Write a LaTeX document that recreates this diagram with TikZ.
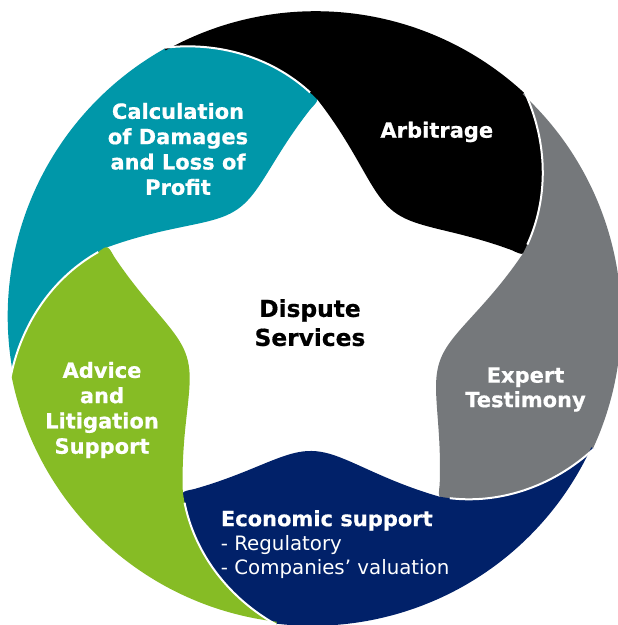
\documentclass[tikz,border=0pt]{standalone}
\usepackage{fontspec}
\setmainfont{DejaVu Sans}[BoldFeatures={FakeBold=0.6}]
\usepackage{tikz}

\definecolor{calcteal}{HTML}{0097A9}
\definecolor{arbblack}{HTML}{000000}
\definecolor{expgrey}{HTML}{75787B}
\definecolor{econblue}{HTML}{012169}
\definecolor{advgreen}{HTML}{86BC25}

% one blade of the wheel (top left), turned by 72 degrees for the others
\newcommand{\blade}{plot[domain=191:119] (\t:{rim(\t)})
  -- plot[domain=119:91] (\t:{head(\t)})
  .. controls (88.5:219) .. (91:{star(91)})
  -- plot[domain=91:161] (\t:{star(\t)})
  -- plot[domain=161:191] (\t:{head(\t-72)}) -- cycle}
\newcommand{\seam}{plot[domain=119:91] (\t:{head(\t)})}

\tikzset{
  lbl/.style={text=white, inner sep=0pt, align=center,
    font=\fontsize{21}{25.3}\selectfont\bfseries},
}

\begin{document}
\begin{tikzpicture}[x=1pt,y=1pt,samples=40,smooth,variable=\t,
  declare function={
    rim(\t)=306+2*(191-\t)/72;
    head(\t)=218+91*(\t-89)/30+25*((\t-89)/30)*(1-(\t-89)/30);
    star(\t)=133+85*(abs(\t-125)/36)*(abs(\t-125)/36);
  }]
\path[use as bounding box, fill=white] (-314,-307) rectangle (304,318);

\fill[calcteal] \blade;
\fill[arbblack, rotate=-72] \blade;
\fill[expgrey, rotate=-144] \blade;
\fill[econblue, rotate=-216] \blade;
\fill[advgreen, rotate=-288] \blade;

\draw[white, line width=2pt] \seam;
\draw[white, line width=2pt, rotate=-72] \seam;
\draw[white, line width=2pt, rotate=-144] \seam;
\draw[white, line width=2pt, rotate=-216] \seam;
\draw[white, line width=2pt, rotate=-288] \seam;

\node[lbl] (calc) at (-136,169) {Calculation\\of Damages\\and Loss of\\Profit};
\node[lbl, anchor=base] (arbit) at (122.8,180.3) {Arbitrage};
\node[lbl, text=black, font=\fontsize{23.3}{29}\selectfont\bfseries] (disp) at (-4,-4.7) {Dispute\\Services};
\node[lbl, font=\fontsize{21}{24.5}\selectfont\bfseries] (expert) at (211.5,-71.5) {Expert\\Testimony};
\node[lbl] (advice) at (-212,-92) {Advice\\and\\Litigation\\Support};
\node[lbl, align=left, anchor=north west, font=\fontsize{19.8}{24}\selectfont] (econ) at (-93.3,-192)
  {{\fontsize{21}{24}\selectfont\bfseries Economic support}\\- Regulatory\\- Companies’ valuation};
\end{tikzpicture}
\end{document}
